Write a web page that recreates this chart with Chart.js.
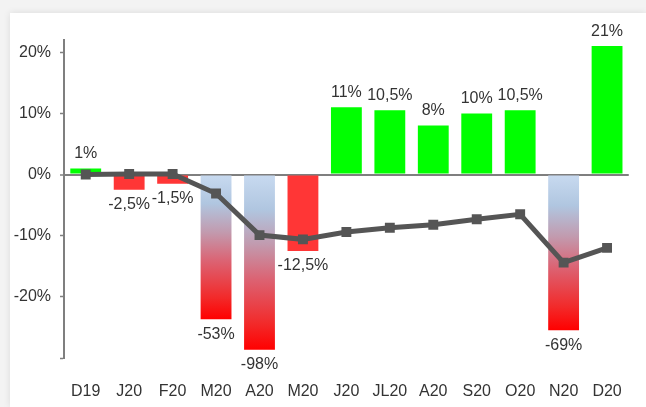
<!DOCTYPE html>
<html>
<head>
<meta charset="utf-8">
<script src="https://cdn.jsdelivr.net/npm/chart.js@4/dist/chart.umd.min.js"></script>
<style>
  html, body { margin: 0; padding: 0; background: #f3f3f3; }
  .card {
    position: absolute; left: 10px; top: 13px; right: 0; bottom: 0;
    background: #ffffff; box-shadow: 0 0 7px rgba(0, 0, 0, 0.10);
  }
  .wrap { position: absolute; left: 0; top: 0; width: 646px; height: 407px; }
</style>
</head>
<body>
<div class="card"></div>
<div class="wrap"><canvas id="chart"></canvas></div>
<script>
// Monthly change (bars) and cumulative trend (line), in percent
const MONTHS = ['D19', 'J20', 'F20', 'M20', 'A20', 'M20', 'J20', 'JL20', 'A20', 'S20', 'O20', 'N20', 'D20'];
const MONTHLY_CHANGE = [1, -2.5, -1.5, -53, -98, -12.5, 11, 10.5, 8, 10, 10.5, -69, 21];
const TREND = [0, 0.1, 0.1, -3.1, -9.9, -10.6, -9.4, -8.7, -8.2, -7.3, -6.5, -14.4, -12.0];
const Y_TICKS = [20, 10, 0, -10, -20, -110];
const Y_MAX = 22;
const Y_FLOOR = -110;

// Values below the break are drawn on a squeezed stretch of the axis
const BREAK = -20;
const SQUEEZE = 1 / 9;
const fold = v => (v < BREAK ? BREAK + (v - BREAK) * SQUEEZE : v);
const unfold = f => (f < BREAK ? BREAK + (f - BREAK) / SQUEEZE : f);

class BrokenLinearScale extends Chart.LinearScale {
  getPixelForValue(value) {
    if (value === null || value === undefined || isNaN(value)) return NaN;
    const lo = fold(this.min), hi = fold(this.max);
    return this.getPixelForDecimal((fold(value) - lo) / (hi - lo));
  }
  getValueForPixel(pixel) {
    const lo = fold(this.min), hi = fold(this.max);
    return unfold(lo + this.getDecimalForPixel(pixel) * (hi - lo));
  }
}
BrokenLinearScale.id = 'brokenLinear';
BrokenLinearScale.defaults = Chart.LinearScale.defaults;
Chart.register(BrokenLinearScale);

const GREEN = '#00ff00';
const RED = '#ff3636';
const INK = '#333333';
const AXIS = '#7f7f7f';
const FONT = { family: '"Liberation Sans", Arial, sans-serif', size: 16 };

function barFill(ctx) {
  const v = ctx.raw;
  if (v >= 0) return GREEN;
  if (v >= BREAK) return RED;
  const chart = ctx.chart;
  const y = chart.scales && chart.scales.y;
  if (!chart.chartArea || !y) return RED;
  const top = y.getPixelForValue(0), bottom = y.getPixelForValue(v);
  const g = chart.ctx.createLinearGradient(0, top, 0, bottom);
  g.addColorStop(0, '#c8daf0');
  g.addColorStop(0.2, '#b0c6e0');
  g.addColorStop(0.4, '#c29aae');
  g.addColorStop(0.6, '#dc6272');
  g.addColorStop(0.85, '#f22a2a');
  g.addColorStop(1, '#ff0000');
  return g;
}

const fmt = v => String(v).replace('.', ',') + '%';

// Value labels above positive bars and below negative bars
const barLabels = {
  id: 'barLabels',
  afterDatasetsDraw(chart) {
    const meta = chart.getDatasetMeta(0);
    const c = chart.ctx;
    c.save();
    c.font = `${FONT.size}px ${FONT.family}`;
    c.fillStyle = INK;
    c.textAlign = 'center';
    meta.data.forEach((el, i) => {
      const v = MONTHLY_CHANGE[i];
      if (v >= 0) {
        c.textBaseline = 'bottom';
        c.fillText(fmt(v), el.x, el.y - 7);
      } else {
        c.textBaseline = 'top';
        c.fillText(fmt(v), el.x, el.y + 7);
      }
    });
    c.restore();
  }
};

new Chart(document.getElementById('chart'), {
  data: {
    labels: MONTHS,
    datasets: [
      {
        type: 'bar',
        data: MONTHLY_CHANGE,
        backgroundColor: barFill,
        borderWidth: 0,
        categoryPercentage: 1,
        barPercentage: 0.71,
        order: 2
      },
      {
        type: 'line',
        data: TREND,
        borderColor: '#555555',
        borderWidth: 5,
        backgroundColor: '#555555',
        pointStyle: 'rect',
        pointRadius: 7,
        pointBorderWidth: 0,
        pointBackgroundColor: '#555555',
        tension: 0,
        order: 1
      }
    ]
  },
  options: {
    responsive: true,
    maintainAspectRatio: false,
    devicePixelRatio: 1,
    animation: false,
    layout: { padding: { top: 40, right: 0, bottom: 0, left: 0 } },
    plugins: { legend: { display: false }, tooltip: { enabled: false } },
    scales: {
      x: {
        grid: { display: false, drawTicks: false },
        border: { display: false },
        ticks: { color: INK, font: FONT, padding: 24, maxRotation: 0, autoSkip: false },
        afterFit: s => { s.height = 49; }
      },
      y: {
        type: 'brokenLinear',
        min: Y_FLOOR,
        max: Y_MAX,
        afterBuildTicks: s => { s.ticks = Y_TICKS.map(v => ({ value: v })); },
        afterFit: s => { s.width = 64; },
        border: { display: true, color: AXIS, width: 2 },
        grid: {
          color: c => (c.tick && c.tick.value === 0 ? AXIS : 'rgba(0,0,0,0)'),
          lineWidth: c => (c.tick && c.tick.value === 0 ? 2 : 1),
          tickColor: AXIS,
          tickWidth: 1.5,
          tickLength: 4,
          drawTicks: true
        },
        ticks: {
          color: INK,
          font: FONT,
          padding: 9,
          callback: v => (v < BREAK ? '' : v + '%')
        }
      }
    }
  },
  plugins: [barLabels]
});
</script>
</body>
</html>
